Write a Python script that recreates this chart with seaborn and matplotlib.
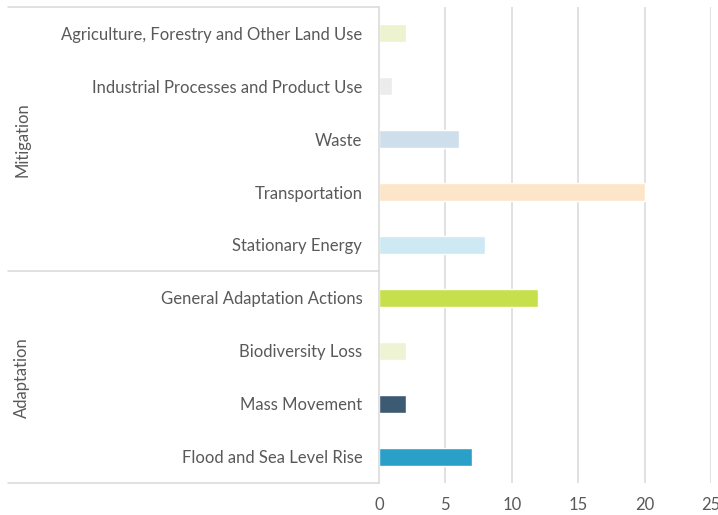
import matplotlib
matplotlib.use("Agg")
import matplotlib.pyplot as plt
import matplotlib.transforms as mtransforms
import seaborn as sns
import pandas as pd

categories = [
    "Agriculture, Forestry and Other Land Use",
    "Industrial Processes and Product Use",
    "Waste",
    "Transportation",
    "Stationary Energy",
    "General Adaptation Actions",
    "Biodiversity Loss",
    "Mass Movement",
    "Flood and Sea Level Rise",
]
counts = [2, 1, 6, 20, 8, 12, 2, 2, 7]
colors = [
    "#eef3cf", "#ececec", "#cfdeeb", "#fde5c9", "#cde9f4",
    "#c5e04a", "#eef3d3", "#3d5a73", "#2a9fc8",
]
groups = ["Mitigation", "Adaptation"]
group_spans = [(0, 4), (5, 8)]
x_ticks = [0, 5, 10, 15, 20, 25]

sns.set_theme(style="white")
plt.rcParams["font.family"] = ["Lato", "DejaVu Sans"]

df = pd.DataFrame({"category": categories, "count": counts})

fig = plt.figure(figsize=(7.18, 5.15), dpi=100)
ax = fig.add_axes([379 / 718, 1 - 483 / 515, (711 - 379) / 718, (483 - 7) / 515])

sns.barplot(
    data=df, y="category", x="count", hue="category",
    palette=dict(zip(categories, colors)), orient="h",
    width=0.34, legend=False, ax=ax, saturation=1,
)

ax.set_xlim(0, 25)
ax.set_ylim(8.5, -0.5)
ax.set_xticks(x_ticks)
ax.set_xticklabels([str(t) for t in x_ticks])
ax.set_xlabel("")
ax.set_ylabel("")

grid_color = "#d9d9d9"
for t in x_ticks[1:]:
    ax.axvline(t, color=grid_color, lw=1.1, zorder=0)

for s in ["top", "right", "bottom"]:
    ax.spines[s].set_visible(False)
ax.spines["left"].set_color(grid_color)
ax.spines["left"].set_linewidth(1.1)

label_color = "#595959"
fs = 12
ax.tick_params(axis="y", length=0, pad=12, labelsize=fs, labelcolor=label_color)
ax.tick_params(axis="x", length=0, pad=10, labelsize=fs, labelcolor=label_color)

# Horizontal group boundaries reaching into the label area
trans = mtransforms.blended_transform_factory(fig.transFigure, ax.transData)
x0 = 8 / 718
x1 = 379 / 718
for yv in [-0.5, 4.5, 8.5]:
    ax.plot([x0, x1], [yv, yv], transform=trans, color=grid_color,
            lw=1.1, clip_on=False, zorder=3)

# Group titles
for name, (a, b) in zip(groups, group_spans):
    ax.text(22 / 718, (a + b) / 2, name, transform=trans, rotation=90,
            ha="center", va="center", fontsize=fs, color=label_color)

fig.savefig("out.png", dpi=100)
